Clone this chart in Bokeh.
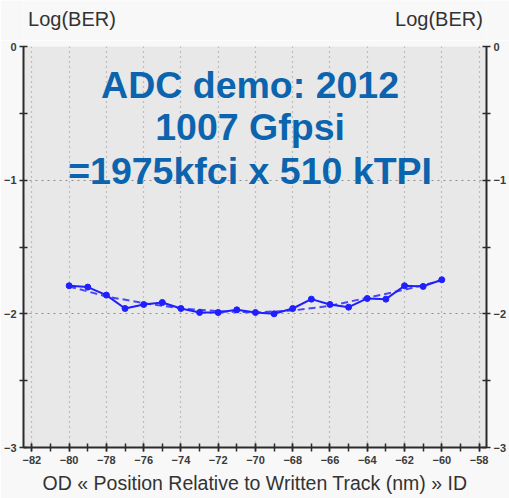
from bokeh.plotting import figure
from bokeh.layouts import column
from bokeh.models import LinearAxis, Label, Range1d, FixedTicker, Grid
from bokeh.embed import file_html
from bokeh.resources import INLINE

# Measured log(BER) across the track, one reading per nm
position_nm = [-80, -79, -78, -77, -76, -75, -74, -73, -72, -71, -70,
               -69, -68, -67, -66, -65, -64, -63, -62, -61, -60]
log_ber = [-1.79, -1.80, -1.86, -1.96, -1.93, -1.915, -1.96, -1.99, -1.99, -1.97, -1.99,
           -2.00, -1.96, -1.89, -1.93, -1.95, -1.885, -1.89, -1.79, -1.795, -1.745]

# Smoothed trend through the measurements
fit_nm = [-80, -78, -76, -74, -72, -70, -68, -66, -64, -62, -60]
fit_log_ber = [-1.795, -1.87, -1.92, -1.96, -1.98, -1.99, -1.975, -1.94, -1.88, -1.82, -1.75]

x_ticks = [-82, -80, -78, -76, -74, -72, -70, -68, -66, -64, -62, -60, -58]
x_minor = list(range(-82, -57))
y_ticks = [0, -1, -2, -3]
y_minor = [-0.5, -1.5, -2.5]

headline = ["ADC demo: 2012", "1007 Gfpsi", "=1975kfci x 510 kTPI"]
y_caption = "Log(BER)"

BLUE = "#1f1fff"
TEXT_BLUE = "#0b64ad"
AXIS = "#2b2b2b"
FONT = "Liberation Sans"
PAGE = "#f8f8f8"

# header strip carrying the y-axis captions
HEAD_H = 40
head = figure(width=509, height=HEAD_H, output_backend="svg", toolbar_location=None,
              x_range=Range1d(0, 509), y_range=Range1d(0, HEAD_H),
              min_border=0, x_axis_location=None, y_axis_location=None)
head.background_fill_color = PAGE
head.border_fill_color = PAGE
head.outline_line_color = None
head.xgrid.grid_line_color = None
head.ygrid.grid_line_color = None
for x, align in ((5, "left"), (505, "right")):
    head.add_layout(Label(x=x, y=HEAD_H - 18, text=y_caption, text_align=align,
                          text_baseline="alphabetic", text_font=FONT,
                          text_font_size="20px", text_color="#333333"))

x0, x1 = -82.45, -57.6
p = figure(width=509, height=498 - HEAD_H, output_backend="svg", toolbar_location=None,
           x_range=Range1d(x0, x1), y_range=Range1d(-3, 0),
           min_border_left=22, min_border_right=21, min_border_top=46 - HEAD_H,
           min_border_bottom=51, y_axis_location=None, x_axis_location=None)
p.background_fill_color = "#e8e8e8"
p.border_fill_color = PAGE
p.outline_line_color = None

# bottom axis
xaxis = LinearAxis(ticker=FixedTicker(ticks=x_ticks, minor_ticks=x_minor))
xaxis.axis_label = "OD \u00ab Position Relative to Written Track (nm) \u00bb ID"
p.add_layout(xaxis, "below")

# left and right axes
yl = LinearAxis(ticker=FixedTicker(ticks=y_ticks, minor_ticks=y_minor))
yr = LinearAxis(ticker=FixedTicker(ticks=y_ticks, minor_ticks=y_minor))
p.add_layout(yl, "left")
p.add_layout(yr, "right")

for ax in (xaxis, yl, yr):
    ax.axis_line_color = AXIS
    ax.axis_line_width = 2
    ax.major_tick_line_color = AXIS
    ax.minor_tick_line_color = AXIS
    ax.major_tick_line_width = 1.5
    ax.minor_tick_line_width = 1.5
    ax.major_tick_in = 4
    ax.major_tick_out = 4
    ax.minor_tick_in = 4
    ax.minor_tick_out = 4
    ax.major_label_text_font = FONT
    ax.major_label_text_font_size = "11px"
    ax.major_label_text_font_style = "bold"
    ax.major_label_text_color = "#3a3a3a"
    ax.major_label_standoff = 3
xaxis.major_label_standoff = 4
xaxis.axis_label_text_font = FONT
xaxis.axis_label_text_font_size = "19.5px"
xaxis.axis_label_text_font_style = "normal"
xaxis.axis_label_text_color = "#333333"
xaxis.axis_label_standoff = 5

# dotted grid
p.xgrid.grid_line_color = None
p.ygrid.grid_line_color = None
p.add_layout(Grid(dimension=0, ticker=FixedTicker(ticks=x_ticks), grid_line_color="#8f8f8f",
                  grid_line_dash="1 4", grid_line_width=1.2))
p.add_layout(Grid(dimension=1, ticker=FixedTicker(ticks=y_ticks), grid_line_color="#8f8f8f",
                  grid_line_dash="2 4", grid_line_width=1.2))

# data
p.line(fit_nm, fit_log_ber, line_color=BLUE, line_width=2, line_dash="7 4", line_alpha=0.8)
p.line(position_nm, log_ber, line_color=BLUE, line_width=2)
p.scatter(position_nm, log_ber, size=6, fill_color=BLUE, line_color=BLUE)

# headline annotation
for txt, y in zip(headline, [-0.29, -0.60, -0.93]):
    p.add_layout(Label(x=-70.29, y=y, text=txt, text_align="center",
                       text_baseline="alphabetic", text_font=FONT, text_font_size="37.5px",
                       text_font_style="bold", text_color=TEXT_BLUE))

open("out.html", "w").write(file_html(column(head, p, spacing=0), INLINE))
